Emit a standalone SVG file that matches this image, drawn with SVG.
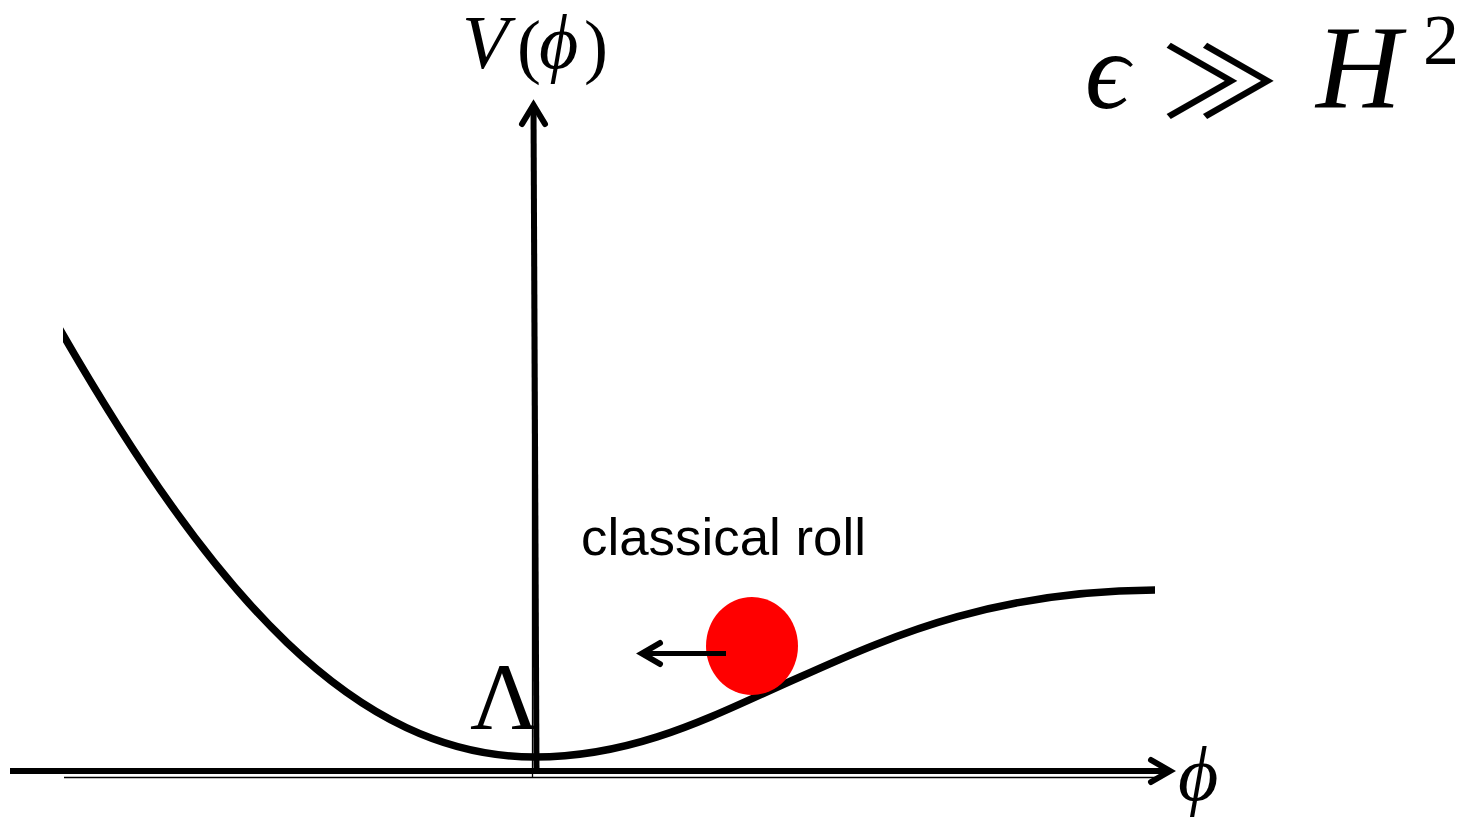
<svg xmlns="http://www.w3.org/2000/svg" width="1480" height="817" viewBox="0 0 1480 817">
<defs>
<style>
.serif{font-family:"Liberation Serif","DejaVu Serif",serif;fill:#000}
.it{font-style:italic}
.sans{font-family:"Liberation Sans",Arial,sans-serif;fill:#000}
.axis{stroke:#000;stroke-width:6;fill:none;stroke-linecap:butt}
.thin{stroke:#000;stroke-width:1.3;fill:none}
.head{stroke:#000;stroke-width:6;fill:none;stroke-linecap:round;stroke-linejoin:miter}
</style>
<filter id="sh" x="-5%" y="-50%" width="110%" height="200%">
<feGaussianBlur stdDeviation="2"/>
</filter>
<clipPath id="cl"><rect x="63" y="0" width="1092" height="817"/></clipPath>
</defs>
<rect width="1480" height="817" fill="#fff"/>
<g id="axes">
<line x1="14" y1="775" x2="1168" y2="775" stroke="#999" stroke-width="4" filter="url(#sh)"/>
<line class="thin" x1="64" y1="777.5" x2="1158" y2="777.5"/>
<line class="thin" x1="532.5" y1="110" x2="532.5" y2="777"/>
</g>
<g id="curve">
<path d="M58,326 C213,596 355,757 535,757 C640,757 720,712 800,677 C900,632 1000,590 1160,590" fill="none" stroke="#000" stroke-width="7.5" clip-path="url(#cl)"/>
</g>
<g id="connectors">
<line class="axis" x1="10" y1="771" x2="1168" y2="771"/>
<polyline class="head" points="1151,760 1170,771 1151,782"/>
<line class="axis" x1="533.5" y1="108" x2="536.5" y2="771"/>
<polyline class="head" points="522,124 533.5,105 545,124"/>
</g>
<g id="ball">
<ellipse cx="752" cy="646" rx="46" ry="49" fill="#ff0000"/>
<line x1="726" y1="653.5" x2="643" y2="653.5" stroke="#000" stroke-width="5"/>
<polyline class="head" points="660,643 642,653.5 660,664" stroke-width="5"/>
</g>
<g id="labels">
<text class="serif it" x="462" y="68" font-size="76">V</text>
<text class="serif" x="517" y="70" font-size="72">(</text>
<text class="serif it" x="539" y="68" font-size="76">ϕ</text>
<text class="serif" x="584" y="70" font-size="72">)</text>
<text class="serif" x="470" y="729" font-size="96">Λ</text>
<text class="serif it" x="1178" y="800" font-size="78">ϕ</text>
<text class="sans" x="581" y="555" font-size="52" textLength="285" lengthAdjust="spacingAndGlyphs">classical roll</text>
<text class="serif it" x="1085" y="108" font-size="110">ϵ</text>
<text transform="translate(1160,118) scale(1,0.82)" font-size="120" font-weight="400" style="font-family:'Noto Sans CJK JP','DejaVu Sans',sans-serif">≫</text>
<text class="serif it" x="1316" y="107" font-size="118">H</text>
<text class="serif" x="1423" y="64" font-size="72">2</text>
</g>
</svg>
